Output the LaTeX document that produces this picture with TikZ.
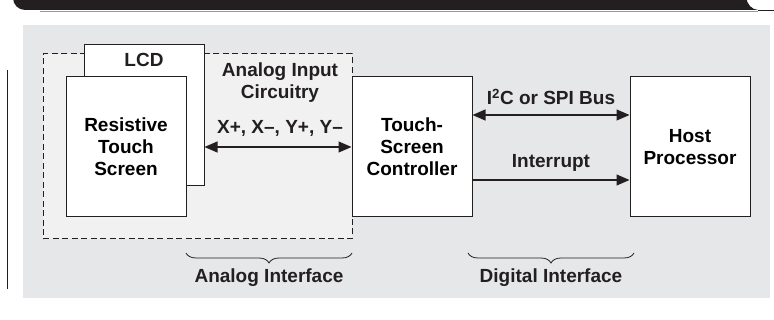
\documentclass[tikz,border=0pt]{standalone}
\usepackage{fontspec}
\setmainfont{Liberation Sans}
\usetikzlibrary{arrows.meta,positioning,decorations.pathreplacing}
\definecolor{Ink}{HTML}{231F20}
\definecolor{Panel}{HTML}{E6E7E8}
\definecolor{Inner}{HTML}{F1F1F2}
\definecolor{Rule}{HTML}{9A9A9C}
\tikzset{
  >={Triangle[length=13pt,width=11pt]},
  blk/.style={rectangle,draw=Ink,line width=1pt,fill=white,minimum width=120pt,minimum height=140pt,inner sep=0pt,align=center,font=\fontsize{19}{22}\selectfont\bfseries},
  dashbox/.style={rectangle,draw=Ink,line width=1pt,dash pattern=on 6pt off 3.5pt,fill=Inner,inner sep=0pt},
  sig/.style={line width=1.2pt,draw=Ink},
  lab/.style={align=center,inner sep=0pt,text=Ink,font=\fontsize{19}{22}\selectfont\bfseries},
  brc/.style={draw=Ink,line width=.8pt,decorate,decoration={brace,amplitude=10pt}}
}
\begin{document}
\begin{tikzpicture}[x=1pt,y=-1pt]
  \useasboundingbox (0,0) rectangle (774,320);
  % header bar
  \fill[Ink] (13,-14) [rounded corners=12pt] -- (13,10) [sharp corners] -- (758,10)
    .. controls (751,9) and (748,5) .. (746,-2) -- (746,-14) -- cycle;
  \draw[Ink,line width=.8pt] (758,10) -- (774,10);
  \draw[Rule,line width=.6pt] (40,11.2) -- (758,11.2);
  \draw[Ink,line width=1pt] (7,70) -- (7,289);
  % background panel
  \fill[Panel] (23,25) rectangle (770,298);
  \node[dashbox,minimum width=309pt,minimum height=185pt] (aic) at (197.5,146.5) {};
  \node[blk,minimum height=141pt] (lcd) at (144,115.5) {};
  \node[lab,below=8.5pt of lcd.north] (lcdtxt) {LCD};
  \node[blk] (rts) at (126,147) {Resistive\\Touch\\Screen};
  \node[blk] (tsc) at (412,147) {Touch-\\Screen\\Controller};
  \node[blk] (host) at (690,147) {Host\\Processor};
  \node[lab] (aictxt) at (280,82.5) {Analog Input\\Circuitry};
  \node[lab] (xy) at (280,128) {X+, X--, Y+, Y--};
  \node[lab] (bus) at (551,97) {I\textsuperscript{2}C or SPI Bus};
  \node[lab] (irq) at (551,163) {Interrupt};
  \draw[sig,<->] (lcd.east |- tsc.west) -- (tsc.west);
  \draw[sig,<->] ([yshift=32pt]tsc.east) -- ([yshift=32pt]host.west);
  \draw[sig,->] ([yshift=-33pt]tsc.east) -- ([yshift=-33pt]host.west);
  % interface braces
  \coordinate (ab1) at (352,253);
  \coordinate (ab2) at (186,253);
  \coordinate (db1) at (634,253);
  \coordinate (db2) at (468,253);
  \draw[brc] (ab1) -- (ab2);
  \draw[brc] (db1) -- (db2);
  \node[lab] (ai) at (269,278) {Analog Interface};
  \node[lab] (di) at (551,278) {Digital Interface};
\end{tikzpicture}
\end{document}
